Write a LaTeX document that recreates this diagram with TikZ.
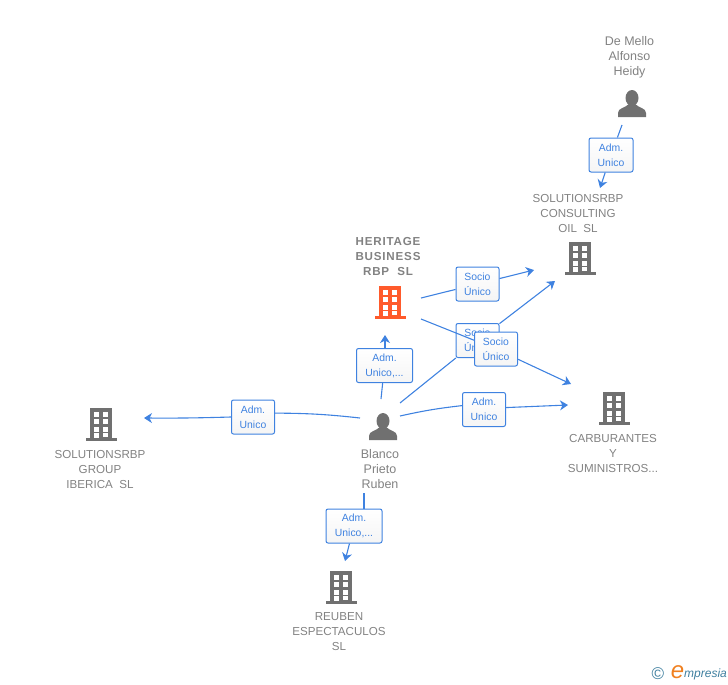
\documentclass[tikz,border=0pt]{standalone}
\usepackage{fontspec}
\setmainfont{Liberation Sans}
\usepackage{xcolor}
\usetikzlibrary{arrows.meta}
\definecolor{linkblue}{HTML}{3F82E0}
\definecolor{iconGray}{HTML}{707070}
\definecolor{textGray}{HTML}{828282}
\definecolor{heritageRed}{HTML}{FF5A2B}
\definecolor{logoTeal}{HTML}{3F7F9F}
\definecolor{logoOrange}{HTML}{F08020}
\tikzset{
  namelabel/.style={text=textGray,align=center,inner sep=0,font=\fontsize{11.6}{15}\selectfont},
  personlabel/.style={namelabel,font=\fontsize{12.5}{15}\selectfont},
  rolebox/.style={draw=linkblue,line width=1,rounded corners=2,top color=white,bottom color=black!4,text=linkblue,align=center,inner sep=0,minimum height=34,font=\fontsize{10.4}{15}\selectfont},
  link/.style={draw=linkblue,line width=1.1},
  linkarrow/.style={link,-{Stealth[length=8,width=10,inset=2.5]}},
  pics/building/.style={code={
    \fill[#1] (-11,-16) rectangle (11,14);
    \fill[#1] (-15.5,14) rectangle (15.5,17);
    \foreach \wy in {-12.5,-5,2.5} {
      \fill[white] (-7,\wy) rectangle (-2,\wy+5);
      \fill[white] (2,\wy) rectangle (7,\wy+5);
    }
    \fill[white] (-7,8.8) rectangle (-2,14);
    \fill[white] (2,8.8) rectangle (7,13);
  }},
  pics/person/.style={code={
    \fill[iconGray] (0,-6) ellipse (6.5 and 8);
    \fill[iconGray] (-14,13) -- (-14,9) .. controls (-14,4) and (-7,4) .. (-3,0) -- (3,0) .. controls (7,4) and (14,4) .. (14,9) -- (14,13) -- cycle;
  }}
}
\begin{document}
\begin{tikzpicture}[x=1pt,y=-1pt]
\useasboundingbox (0,0) rectangle (728,685);
% icons
\pic at (632,104) {person};
\pic at (383,427) {person};
\pic at (580,258) {building=iconGray};
\pic at (390,302) {building=heritageRed};
\pic at (614,408) {building=iconGray};
\pic at (101,424) {building=iconGray};
\pic at (341,587) {building=iconGray};
% names
\node[personlabel] (demello) at (629.5,57) {De Mello\\Alfonso\\Heidy};
\node[namelabel] (consulting) at (578,214) {SOLUTIONSRBP\\CONSULTING\\OIL\ \ SL};
\node[namelabel,font=\fontsize{11.6}{15}\selectfont\bfseries\addfontfeatures{LetterSpace=7}] (heritage) at (388,257) {HERITAGE\\BUSINESS\\RBP\ \ SL};
\node[namelabel] (carburantes) at (613,454) {CARBURANTES\\Y\\SUMINISTROS...};
\node[namelabel] (group) at (100,470) {SOLUTIONSRBP\\GROUP\\IBERICA\ \ SL};
\node[personlabel] (blanco) at (380,469.5) {Blanco\\Prieto\\Ruben};
\node[namelabel] (reuben) at (339,632) {REUBEN\\ESPECTACULOS\\SL};
% free ends of the links
\coordinate (demelloOut) at (622,125);
\coordinate (consultingIn) at (600,188);
\coordinate (heritageOutA) at (421,298);
\coordinate (consultingInA) at (534,270);
\coordinate (heritageOutB) at (421,319);
\coordinate (carburantesInA) at (571,384);
\coordinate (blancoOutA) at (400,403);
\coordinate (consultingInB) at (555,281);
\coordinate (blancoOutB) at (381,399);
\coordinate (heritageIn) at (385,335);
\coordinate (blancoOutC) at (400,416);
\coordinate (carburantesInB) at (568,405);
\coordinate (blancoOutD) at (360,418);
\coordinate (groupIn) at (144,418);
\coordinate (blancoOutE) at (364,493);
\coordinate (reubenIn) at (345,561);
% De Mello -> consulting
\node[rolebox,minimum width=44] (admDemello) at (611,155) {Adm.\\Unico};
\draw[link] (demelloOut) -- (admDemello);
\draw[linkarrow] (admDemello) -- (consultingIn);
% heritage -> consulting
\node[rolebox,minimum width=43] (socioConsulting) at (477.5,284) {Socio\\Único};
\draw[link] (heritageOutA) -- (socioConsulting);
\draw[linkarrow] (socioConsulting) -- (consultingInA);
% blanco -> consulting
\node[rolebox,minimum width=43] (socioBlanco) at (477.5,340.5) {Socio\\Único};
\draw[link] (blancoOutA) -- (socioBlanco);
\draw[linkarrow] (socioBlanco) -- (consultingInB);
% heritage -> carburantes
\node[rolebox,minimum width=43] (socioCarburantes) at (496,349) {Socio\\Único};
\draw[link] (heritageOutB) -- (socioCarburantes);
\draw[linkarrow] (socioCarburantes) -- (carburantesInA);
% blanco -> heritage
\node[rolebox,minimum width=56] (admHeritage) at (384.5,365.5) {Adm.\\Unico,...};
\draw[link] (blancoOutB) -- (admHeritage);
\draw[linkarrow] (admHeritage.north -| heritageIn) -- (heritageIn);
% blanco -> carburantes
\node[rolebox,minimum width=43] (admCarburantes) at (484,409.5) {Adm.\\Unico};
\draw[link] (blancoOutC) to[bend left=3] (admCarburantes.170);
\draw[linkarrow] (admCarburantes.5) -- (carburantesInB);
% blanco -> group
\node[rolebox,minimum width=43] (admGroup) at (253,417) {Adm.\\Unico};
\draw[link] (blancoOutD) to[bend right=3] (admGroup.10);
\draw[linkarrow] (admGroup.west) to[bend left=1] (groupIn);
% blanco -> reuben
\node[rolebox,minimum width=56] (admReuben) at (354,526) {Adm.\\Unico,...};
\draw[link] (blancoOutE) -- (admReuben.north -| blancoOutE);
\draw[linkarrow] (admReuben) -- (reubenIn);
% logo
\node[text=logoTeal,inner sep=0,font=\fontsize{17}{17}\selectfont] (logoC) at (658,674) {©};
\node[text=logoOrange,inner sep=0,font=\fontsize{24}{24}\selectfont\itshape] (logoE) at (677.5,672) {e};
\node[text=logoTeal,inner sep=0,anchor=west,font=\fontsize{12}{13}\selectfont\itshape] (logoText) at (684,674) {mpresia};
\end{tikzpicture}
\end{document}
